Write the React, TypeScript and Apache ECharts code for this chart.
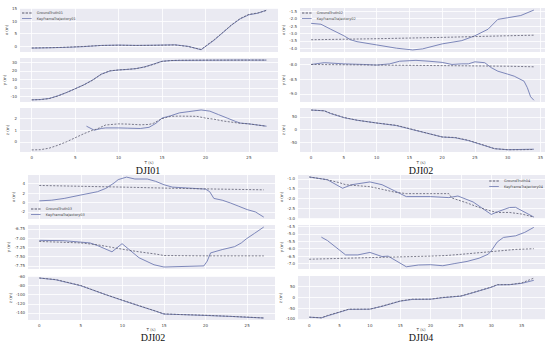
import React, { useEffect, useRef } from "react";
import * as echarts from "echarts";

// ---------- DJI01 ----------
const t01x = [0, 2, 4, 6, 8, 10, 12, 14, 16.5, 18, 19.5, 21, 22, 23, 24, 25, 26, 27];
const gt01x = [-0.7, -0.6, -0.4, -0.1, 0.3, 0.4, 0.3, 0.35, 0.5, -0.1, -1.3, 2.6, 5.5, 8.5, 11, 12.7, 13.2, 14.2];
const kf01x = [-0.75, -0.62, -0.45, -0.15, 0.3, 0.45, 0.32, 0.4, 0.55, -0.05, -1.4, 2.4, 5.4, 8.4, 10.9, 12.5, 13.1, 14.3];
const t01y = [0, 1, 2, 3, 4, 5, 6, 7, 8, 9, 10, 11, 12, 13, 14, 15, 16, 17, 20, 24, 27];
const gt01y = [-14, -13.7, -12.5, -9.5, -5.5, -1, 3.5, 9, 16, 20, 21, 21.7, 22.5, 24.5, 27.5, 31, 32, 32.3, 32.5, 32.5, 32.6];
const kf01y = [-14, -13.6, -12.4, -9.3, -5.4, -1, 3.6, 9.2, 16, 19.8, 21, 21.6, 22.6, 24.6, 27.8, 31.2, 32, 32.2, 32.4, 32.6, 32.5];
const t01zGT = [0, 1, 2, 3, 4, 5, 6, 7, 7.5, 8.5, 10, 11, 12.5, 13.5, 14, 15, 16, 17, 19, 20, 21, 22, 23, 24, 25, 26, 27];
const gt01z = [-0.7, -0.68, -0.55, -0.3, 0, 0.35, 0.7, 1.0, 1.1, 1.45, 1.55, 1.53, 1.47, 1.5, 1.6, 2.0, 2.2, 2.22, 2.2, 2.05, 1.95, 1.8, 1.7, 1.6, 1.55, 1.45, 1.35];
const t01zKF = [6.3, 7.2, 8, 8.5, 10, 11, 12.5, 13.5, 14.3, 15, 16, 17, 18, 19.5, 20.5, 21.5, 22.5, 23.5, 24, 25, 26, 27];
const kf01z = [1.35, 1.0, 1.15, 1.2, 1.2, 1.18, 1.15, 1.25, 1.6, 2.05, 2.25, 2.5, 2.6, 2.75, 2.65, 2.35, 2.05, 1.75, 1.62, 1.55, 1.45, 1.35];

// ---------- DJI02 ----------
const t02xGT = [0, 10, 20, 30, 34];
const gt02x = [-3.43, -3.36, -3.27, -3.16, -3.12];
const t02xKF = [0, 1.5, 3, 5, 6, 7, 10, 13, 15.5, 17, 20, 23, 25, 27, 28.5, 30, 32, 34];
const kf02x = [-2.32, -2.38, -2.72, -3.16, -3.43, -3.56, -3.78, -4.0, -4.12, -4.05, -3.71, -3.49, -3.16, -2.72, -2.05, -1.94, -1.79, -1.42];
const t02yGT = [0, 10, 20, 30, 34];
const gt02y = [-8.0, -8.02, -8.04, -8.06, -8.08];
const t02yKF = [0, 2, 5, 8, 10, 12, 13.5, 16, 18, 20, 21.5, 23, 24, 25, 26.5, 27.5, 28.5, 30, 31, 32.5, 33, 33.5, 34];
const kf02y = [-8.0, -7.94, -7.98, -8.0, -8.02, -7.98, -7.89, -7.86, -7.89, -7.93, -8.0, -7.98, -7.98, -7.91, -7.94, -8.11, -8.23, -8.33, -8.4, -8.57, -8.79, -9.1, -9.22];
const t02z = [0, 2, 3, 5, 7, 10, 13, 15, 18, 20, 22, 24, 26, 28, 30, 32, 34];
const gt02z = [77, 74, 64, 48, 37, 26, 17, 4, -16, -29, -31, -42, -58, -75, -79, -79, -78];
const kf02z = [77, 74, 63, 47, 37, 26, 16, 3, -16, -29, -32, -43, -59, -75, -79, -78, -77];

// ---------- DJI02 (lower left, trajectory 03) ----------
const t03xGT = [0, 5, 10, 15, 20, 27];
const gt03x = [3.63, 3.45, 3.28, 3.07, 2.9, 2.7];
const t03xKF = [0, 1.5, 3, 5, 7, 8, 9, 9.5, 10.5, 11.5, 13, 14, 15, 16, 18, 20, 20.5, 21, 22, 23, 24, 25, 26, 27];
const kf03x = [0.35, 0.5, 0.87, 1.6, 2.3, 3.0, 4.15, 4.87, 5.4, 5.0, 5.0, 4.5, 3.78, 3.28, 3.07, 2.85, 2.3, 0.87, 0.5, -0.1, -0.8, -1.5, -2.0, -3.1];
const t03yGT = [0, 5, 7, 10, 12, 14, 15, 20, 27];
const gt03y = [-7.09, -7.13, -7.18, -7.3, -7.37, -7.43, -7.47, -7.48, -7.48];
const t03yKF = [0, 3, 6.1, 7, 8.75, 9.96, 12, 13.8, 15, 19.8, 20.2, 20.6, 22, 23.5, 24.3, 24.9, 25.9, 27];
const kf03y = [-7.06, -7.07, -7.13, -7.2, -7.37, -7.15, -7.53, -7.72, -7.78, -7.75, -7.62, -7.4, -7.31, -7.23, -7.13, -7.02, -6.87, -6.7];
const t03z = [0, 2, 5, 8, 10, 12, 14, 15, 17, 20, 23, 25, 27];
const gt03z = [-63.6, -67, -80, -100, -112, -124, -136, -142, -143.5, -145, -147.5, -149, -151];
const kf03z = [-63.6, -67.5, -80.5, -100, -112.5, -124.5, -136, -142.5, -143.5, -145.5, -147.5, -149.5, -151];

// ---------- DJI04 ----------
const t04xGT = [0, 3, 5, 6, 8, 10, 12, 14, 16, 20, 23, 23.5, 26, 28, 30, 31, 33, 35, 37];
const gt04x = [-0.91, -1.05, -1.2, -1.3, -1.35, -1.4, -1.53, -1.67, -1.75, -1.75, -1.75, -1.97, -2.22, -2.45, -2.63, -2.7, -2.7, -2.78, -2.93];
const t04xKF = [0, 3, 5.5, 7, 10, 12, 14, 16, 20, 23, 24.5, 27, 30, 31, 33, 34, 37];
const kf04x = [-0.91, -1.05, -1.48, -1.3, -1.16, -1.3, -1.6, -1.9, -1.9, -1.95, -1.87, -2.17, -2.8, -2.67, -2.45, -2.44, -2.93];
const t04yGT = [0, 10, 20, 22.5, 25, 28, 31, 34, 37];
const gt04y = [-6.71, -6.6, -6.5, -6.46, -6.38, -6.27, -6.16, -6.05, -6.0];
const t04yKF = [2, 3, 6, 8, 10, 12, 13, 16, 18, 20, 22, 24, 26, 28, 29.5, 30, 31, 32, 34, 35.5, 37];
const kf04y = [-5.22, -5.45, -6.42, -6.42, -6.25, -6.53, -6.5, -7.22, -7.1, -7.08, -7.15, -7.0, -6.86, -6.64, -6.37, -6.14, -5.54, -5.24, -5.13, -4.9, -4.56];
const t04z = [0, 2, 3, 5, 6.5, 10, 12, 14, 15, 17, 20, 22, 25, 27, 30, 31, 33, 35, 37];
const gt04z = [-92, -95, -84, -68, -55, -55, -41, -25, -17, -9, -9, -1, 6, 22, 47, 58, 58, 66, 88];
const kf04z = [-92, -95, -86, -69, -56, -55, -42, -26, -18, -10, -9, -2, 5, 21, 46, 57, 58, 64, 78];

// tick labels
const xTicks01 = [0, 5, 10, 15, 20, 25];
const xTicks02 = [0, 5, 10, 15, 20, 25, 30, 35];
const xTicks04 = [0, 5, 10, 15, 20, 25, 30, 35];
const yTicks = {
  p1: [[0, 5, 10, 15], [-10, 0, 10, 20, 30], [0, 1, 2]],
  p2: [[-4, -3.5, -3, -2.5, -2, -1.5], [-9, -8.5, -8], [-50, 0, 50]],
  p3: [[-2, 0, 2, 4], [-7.75, -7.5, -7.25, -7, -6.75], [-140, -120, -100, -80, -60]],
  p4: [[-3, -2.5, -2, -1.5, -1], [-7, -6.5, -6, -5.5, -5, -4.5], [-100, -50, 0, 50, 100]],
};
const axisNames = ["x (m)", "y (m)", "z (m)"];

const zip = (t: number[], v: number[]) => t.map((x, i) => [x, v[i]]);

const GT_COLOR = "#5a5a6e";
const KF_COLOR = "#6f7ab2";
const TICK_FONT = "DejaVu Sans";
const ICON_DASHED = "path://M0,0H3V1H0Z M4.5,0H7.5V1H4.5Z M9,0H12V1H9Z";
const ICON_SOLID = "path://M0,0H12V1H0Z";

export default function App() {
  const ref = useRef<HTMLDivElement>(null);
  useEffect(() => {
    if (!ref.current) return;
    const chart = echarts.init(ref.current, undefined, { renderer: "svg" });

    const panels = [
      {
        id: "01", left: 20, width: 258, tops: [8, 58, 108], h: 44, xr: [-1.35, 28.35], xt: xTicks01,
        yr: [[-2.3, 15.2], [-16.5, 35], [-0.88, 2.92]], yt: yTicks.p1, fmt: [0, 0, 0], gap: 11,
        data: [
          [zip(t01x, gt01x), zip(t01x, kf01x)],
          [zip(t01y, gt01y), zip(t01y, kf01y)],
          [zip(t01zGT, gt01z), zip(t01zKF, kf01z)],
        ],
      },
      {
        id: "02", left: 300, width: 245, tops: [8, 58, 108], h: 44, xr: [-1.7, 35.7], xt: xTicks02,
        yr: [[-4.26, -1.28], [-9.28, -7.78], [-88, 85]], yt: yTicks.p2, fmt: [1, 1, 0], gap: 15,
        data: [
          [zip(t02xGT, gt02x), zip(t02xKF, kf02x)],
          [zip(t02yGT, gt02y), zip(t02yKF, kf02y)],
          [zip(t02z, gt02z), zip(t02z, kf02z)],
        ],
      },
      {
        id: "03", left: 28, width: 247, tops: [175, 225, 276], h: 44, xr: [-1.35, 28.35], xt: xTicks01,
        yr: [[-3.5, 5.85], [-7.834, -6.646], [-155.4, -59.2]], yt: yTicks.p3, fmt: [0, 2, 0], gap: 13,
        data: [
          [zip(t03xGT, gt03x), zip(t03xKF, kf03x)],
          [zip(t03yGT, gt03y), zip(t03yKF, kf03y)],
          [zip(t03z, gt03z), zip(t03z, kf03z)],
        ],
      },
      {
        id: "04", left: 298, width: 247, tops: [175, 225, 276], h: 44, xr: [-1.85, 38.85], xt: xTicks04,
        yr: [[-3.03, -0.81], [-7.37, -4.4], [-105, 98]], yt: yTicks.p4, fmt: [1, 1, 0], gap: 14,
        data: [
          [zip(t04xGT, gt04x), zip(t04xKF, kf04x)],
          [zip(t04yGT, gt04y), zip(t04yKF, kf04y)],
          [zip(t04z, gt04z), zip(t04z, kf04z)],
        ],
      },
    ];

    const grid: any[] = [];
    const xAxis: any[] = [];
    const yAxis: any[] = [];
    const series: any[] = [];
    panels.forEach((p) => {
      for (let k = 0; k < 3; k++) {
        const idx = grid.length;
        grid.push({
          left: p.left, top: p.tops[k], width: p.width, height: p.h,
          show: true, backgroundColor: "#EAEAF2", borderWidth: 0, containLabel: false,
        });
        xAxis.push({
          type: "value", gridIndex: idx, min: p.xr[0], max: p.xr[1],
          axisLine: { show: false },
          axisTick: { show: false, customValues: p.xt },
          axisLabel: {
            show: k === 2, customValues: p.xt, fontSize: 4, color: "#444", margin: 3,
            fontFamily: TICK_FONT,
          },
          splitLine: { show: true, lineStyle: { color: "#ffffff", width: 0.8 } },
        });
        const f = p.fmt[k];
        yAxis.push({
          type: "value", gridIndex: idx, min: p.yr[k][0], max: p.yr[k][1],
          axisLine: { show: false },
          axisTick: { show: false, customValues: p.yt[k] },
          axisLabel: {
            show: true, customValues: p.yt[k], fontSize: 4, color: "#444", margin: 3,
            fontFamily: TICK_FONT,
            formatter: (v: number) => v.toFixed(f),
          },
          splitLine: { show: true, lineStyle: { color: "#ffffff", width: 0.8 } },
          name: axisNames[k], nameLocation: "middle", nameGap: p.gap, nameRotate: 90,
          nameTextStyle: { fontSize: 4, color: "#444", fontFamily: TICK_FONT },
        });
        series.push({
          name: "GroundTruth" + p.id, type: "line", xAxisIndex: idx, yAxisIndex: idx,
          data: p.data[k][0], symbol: "none", showSymbol: false,
          lineStyle: { color: GT_COLOR, width: 0.8, type: [2, 1.5] },
          itemStyle: { color: GT_COLOR }, z: 3,
        });
        series.push({
          name: "KeyFrameTrajectory" + p.id, type: "line", xAxisIndex: idx, yAxisIndex: idx,
          data: p.data[k][1], symbol: "none", showSymbol: false,
          lineStyle: { color: KF_COLOR, width: 0.9 },
          itemStyle: { color: KF_COLOR }, z: 2,
        });
      }
    });

    const legendBase = {
      orient: "vertical", itemWidth: 10, itemHeight: 0.8, itemGap: 1.5, padding: 1,
      textStyle: { fontSize: 3.5, color: "#444", fontFamily: TICK_FONT },
      selectedMode: false,
    };
    const legendData = (id: string) => [
      { name: "GroundTruth" + id, icon: ICON_DASHED, itemStyle: { color: GT_COLOR } },
      { name: "KeyFrameTrajectory" + id, icon: ICON_SOLID, itemStyle: { color: KF_COLOR } },
    ];
    const legend = [
      { ...legendBase, left: 21, top: 10, data: legendData("01") },
      { ...legendBase, left: 301, top: 10, data: legendData("02") },
      { ...legendBase, left: 30, top: 206, data: legendData("03") },
      { ...legendBase, right: 6, top: 178, data: legendData("04") },
    ];

    const small = (x: number, y: number, text: string) => ({
      type: "text", x, y,
      style: { text, fontSize: 4, fill: "#444", fontFamily: TICK_FONT, align: "center", verticalAlign: "middle" },
    });
    const big = (x: number, y: number, text: string) => ({
      type: "text", x, y,
      style: { text, fontSize: 10, fill: "#111", fontFamily: "Liberation Serif", align: "center", verticalAlign: "middle" },
    });

    chart.setOption({
      animation: false,
      backgroundColor: "#ffffff",
      grid, xAxis, yAxis, series, legend,
      graphic: [
        small(149, 162.5, "T (s)"),
        small(421, 162.5, "T (s)"),
        small(151, 329.5, "T (s)"),
        small(421, 329.5, "T (s)"),
        big(148, 170.5, "DJI01"),
        big(421, 170.5, "DJI02"),
        big(153, 337, "DJI02"),
        big(421, 337, "DJI04"),
      ],
    });
    return () => chart.dispose();
  }, []);
  return (
    <div
      ref={ref}
      style={{ position: "absolute", left: 0, top: 0, width: 550, height: 346 }}
    />
  );
}
